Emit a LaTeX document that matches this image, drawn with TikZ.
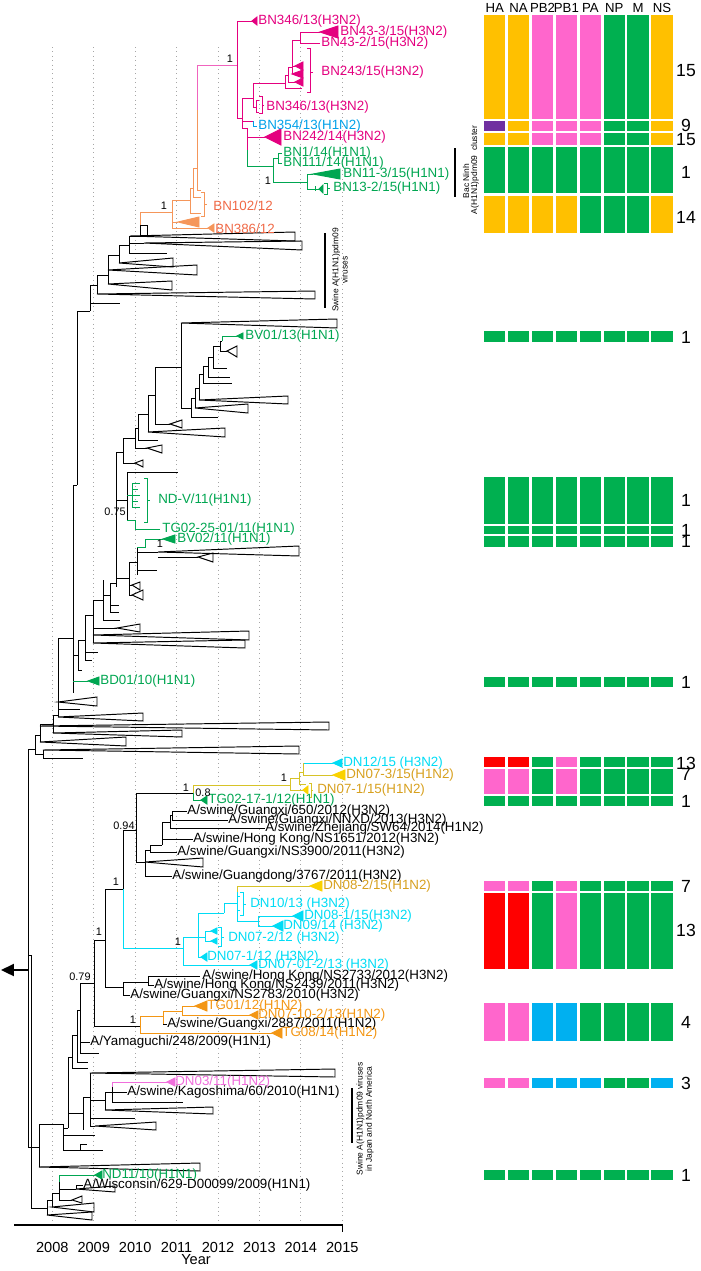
\documentclass[tikz,border=0pt]{standalone}
\usepackage{fontspec}
\setmainfont{Liberation Sans}
\usepackage{xcolor}
\usepackage{tikz}
\usetikzlibrary{arrows.meta}

\definecolor{barGold}{RGB}{255,192,0}
\definecolor{barPink}{RGB}{255,102,204}
\definecolor{barGreen}{RGB}{0,176,80}
\definecolor{barRed}{RGB}{255,0,0}
\definecolor{barBlue}{RGB}{0,176,240}
\definecolor{barPurple}{RGB}{112,48,160}
\definecolor{bnMag}{RGB}{228,0,127}
\definecolor{bnStem}{RGB}{240,100,190}
\definecolor{bnCyan}{RGB}{0,160,233}
\definecolor{vnGreen}{RGB}{0,166,81}
\definecolor{bnOrange}{RGB}{240,105,70}
\definecolor{bnOrLine}{RGB}{245,150,90}
\definecolor{tgOrange}{RGB}{243,150,20}
\definecolor{dnCyan}{RGB}{0,220,245}
\definecolor{dnYellow}{RGB}{250,210,0}
\definecolor{dnGold}{RGB}{215,160,30}
\definecolor{dnLine}{RGB}{215,195,40}
\definecolor{dnViolet}{RGB}{240,110,220}

\begin{document}
\begin{tikzpicture}[
  x=0.02cm, y=-0.02cm,
  br/.style={line width=0.55pt},
  otri/.style={br},
  ctri/.style={br, draw=#1, fill=#1},
  gridln/.style={draw=gray!70, dotted, line width=0.5pt},
  lab/.style={anchor=west, inner sep=0pt, font=\fontsize{7.6}{8}\selectfont},
  bsup/.style={inner sep=0pt, font=\fontsize{6.2}{7}\selectfont},
  hdr/.style={inner sep=0pt, font=\fontsize{7.5}{8}\selectfont},
  cnt/.style={inner sep=0pt, font=\fontsize{10}{11}\selectfont},
  yearlab/.style={inner sep=0pt, font=\fontsize{8.3}{9}\selectfont},
  note/.style={inner sep=0pt, rotate=90, align=center, font=\fontsize{4.8}{5.2}\selectfont},
]
\useasboundingbox (0,0) rectangle (700,1271);

% Year grid and axis
\foreach \yr [count=\k from 0] in {2008,...,2015} {
  \draw[gridln] ({52.3+41.43*\k},47) -- ({52.3+41.43*\k},1225);
  \node[yearlab] (yr\yr) at ({52.3+41.43*\k},1247) {\yr};
}
\draw[line width=0.7pt] (14,1225) -- (342.3,1225) -- (342.3,1232);
\node[yearlab] (year) at (196,1260) {Year};

% Root arrow
\draw[line width=1.3pt, -{Triangle[length=0.26cm, width=0.24cm]}] (28,970) -- (1,970);

% Bac Ninh H3N2 clade
\draw[br, bnStem] (197,110) -- (197,65) -- (237,65);
\draw[br, bnMag] (237,21) -- (237,118) (237,21) -- (252,21) (237,118) -- (242,118)
  (242,98) -- (242,128) (242,98) -- (253,98) (253,83) -- (253,107) (253,83) -- (285,83)
  (285,75) -- (285,88) -- (302,88) (285,75) -- (288,75) (288,67) -- (288,82) -- (295,82)
  (288,67) -- (292,67) (292,40) -- (292,74) (292,66) -- (295,66) (292,40) -- (300,40)
  (300,32) -- (300,43) (300,32) -- (320,32) (300,43) -- (320,43)
  (253,107) -- (256,107) (256,100) -- (256,112) (256,100) -- (259,100) (256,112) -- (259,112)
  (242,121) -- (253,121) (242,128) -- (247,128) (247,128) -- (247,150) (247,137) -- (265,137);
\draw[br, bnMag] (307,48) -- (310,48) -- (310,92) -- (307,92) (310,72) -- (313,72);
\draw[br, bnMag] (259,96) -- (262,96) -- (262,113) -- (259,113) (262,105) -- (264,105);
\draw[ctri=bnMag] (252,21) -- (257,17) -- (257,25) -- cycle;
\draw[ctri=bnMag] (320,32) -- (338,26) -- (338,38) -- cycle;
\draw[ctri=bnMag] (295,66) -- (303,62) -- (303,70) -- cycle;
\draw[ctri=bnMag] (292,74) -- (303,70) -- (303,78) -- cycle;
\draw[ctri=bnMag] (295,82) -- (303,78) -- (303,86) -- cycle;
\draw[ctri=bnMag] (265,137) -- (281,129) -- (281,145) -- cycle;
\draw[br, bnCyan] (253,121) -- (253,126) -- (257,126);

% Bac Ninh H1N1pdm09 cluster
\draw[br, vnGreen] (247,150) -- (247,166) -- (273,166) (273,158) -- (273,182)
  (273,158) -- (278,158) (278,153) -- (278,163) (278,153) -- (282,153) (278,163) -- (282,163)
  (273,182) -- (307,182) (307,174) -- (307,189) (307,174) -- (313,174) (307,189) -- (315,189)
  (315,186) -- (315,191) (315,189) -- (319,189)
  (324,183) -- (327,183) -- (327,194) -- (324,194) (327,188.5) -- (330,188.5);
\draw[ctri=vnGreen] (313,174) -- (340,169) -- (340,179) -- cycle;
\draw[ctri=vnGreen] (319,189) -- (323,185) -- (323,193) -- cycle;

% BN 2012 clade
\draw[br, bnOrLine] (197,110) -- (197,190) -- (201,190) (193,168) -- (197,168)
  (193,168) -- (193,197) -- (201,197) (190,188) -- (193,188) (190,188) -- (190,213) -- (201,213)
  (172,200) -- (190,200) (172,200) -- (172,228) -- (208,228) (172,222) -- (178,222)
  (140,212) -- (172,212) (140,212) -- (140,225)
  (201,192) -- (204,192) -- (204,216) -- (201,216) (204,204) -- (207,204);
\draw[ctri=bnOrLine] (178,222) -- (199,217) -- (199,227) -- cycle;
\draw[ctri=bnOrLine] (208,228) -- (214,224) -- (214,232) -- cycle;

% Backbone, upper part
\draw[br] (140,225) rectangle (147,236)
  (129,236) -- (140,236) (129,236) -- (129,253) -- (167,253) (129,243) -- (144,243)
  (119,245) -- (129,245) (119,245) -- (119,263) (108,255) -- (119,255) (108,255) -- (108,284)
  (97,275) -- (108,275) (97,275) -- (97,294) (90,285) -- (97,285) (90,285) -- (90,311)
  (90,303) -- (120,303) (77,311) -- (90,311) (77,311) -- (77,485) (73,485) -- (77,485)
  (73,485) -- (73,693);
\draw[otri] (130,236) -- (295,232) -- (295,241) -- cycle;
\draw[otri] (144,243) -- (302,241) -- (302,250) -- cycle;
\draw[otri] (119,263) -- (173,258) -- (173,267) -- cycle;
\draw[otri] (108,270) -- (197,265) -- (197,275) -- cycle;
\draw[otri] (108,284) -- (172,281) -- (172,290) -- cycle;
\draw[otri] (97,294) -- (315,291) -- (315,299) -- cycle;

% Vietnamese H1N1pdm09 group
\draw[br] (220,341) -- (222,341) (220,341) -- (220,351) -- (227,351)
  (213,346) -- (220,346) (213,346) -- (213,368) -- (227,368)
  (208,357) -- (213,357) (208,357) -- (208,377) -- (230,377)
  (203,366) -- (208,366) (203,366) -- (203,383) -- (232,383)
  (199,374) -- (203,374) (199,374) -- (199,400) (195,388) -- (199,388) (195,388) -- (195,408)
  (191,398) -- (195,398) (191,398) -- (191,417) -- (218,417) (181,408) -- (191,408)
  (181,323) -- (181,408) (155,367) -- (181,367) (155,367) -- (155,424) -- (170,424)
  (148,395) -- (155,395) (148,395) -- (148,432) (138,414) -- (148,414)
  (138,414) -- (138,440) -- (158,440) (135,428) -- (138,428) (135,428) -- (135,448) -- (147,448)
  (123,438) -- (135,438) (123,438) -- (123,463) -- (135,463) (116,452) -- (123,452)
  (116,452) -- (116,587) (116,500) -- (127,500) (127,472) -- (127,520) (127,472) -- (178,472)
  (137,547) -- (137,575) (137,552) -- (158,552) (158,557) -- (198,557) (137,570) -- (157,570)
  (129,562) -- (137,562) (129,562) -- (129,595) (129,585) -- (132,585) (129,595) -- (132,595)
  (116,578) -- (129,578) (110,583) -- (116,583) (110,583) -- (110,612) -- (119,612)
  (110,605) -- (119,605) (103,595) -- (110,595) (103,580) -- (103,620) -- (120,620)
  (93,600) -- (103,600) (93,600) -- (93,643) (93,628) -- (117,628)
  (85,615) -- (93,615) (85,615) -- (85,660) -- (92,660) (85,652) -- (98,652)
  (78,640) -- (85,640) (78,640) -- (78,670) -- (82,670) (73,655) -- (78,655);
\draw[otri] (227,351) -- (237,346) -- (237,357) -- cycle;
\draw[otri] (199,400) -- (288,396) -- (288,404) -- cycle;
\draw[otri] (195,408) -- (248,404) -- (248,413) -- cycle;
\draw[otri] (181,323) -- (337,319) -- (337,328) -- cycle;
\draw[otri] (170,424) -- (182,420) -- (182,428) -- cycle;
\draw[otri] (148,432) -- (225,428) -- (225,437) -- cycle;
\draw[otri] (147,448) -- (162,445) -- (162,453) -- cycle;
\draw[otri] (135,463) -- (143,460) -- (143,467) -- cycle;
\draw[otri] (158,552) -- (299,546) -- (299,556) -- cycle;
\draw[otri] (198,557) -- (213,553) -- (213,562) -- cycle;
\draw[otri] (132,585) -- (140,582) -- (140,590) -- cycle;
\draw[otri] (132,595) -- (143,590) -- (143,600) -- cycle;
\draw[otri] (117,628) -- (140,624) -- (140,632) -- cycle;
\draw[otri] (93,635) -- (249,631) -- (249,640) -- cycle;
\draw[otri] (93,643) -- (245,640) -- (245,648) -- cycle;
\draw[br, vnGreen] (222,341) -- (222,336) -- (237,336)
  (127,495) -- (132,495) (132,483) -- (132,507) (132,483) -- (140,483) (132,489) -- (138,489)
  (132,495) -- (140,495) (132,501) -- (138,501) (132,507) -- (140,507)
  (144,478) -- (147,478) -- (147,522) -- (144,522) (147,500) -- (150,500)
  (127,520) -- (135,520) -- (135,529) -- (160,529)
  (137,547) -- (145,547) -- (145,539) -- (163,539)
  (73,681) -- (88,681);
\draw[ctri=vnGreen] (237,336) -- (243,333) -- (243,339) -- cycle;
\draw[ctri=vnGreen] (163,539) -- (175,535) -- (175,543) -- cycle;
\draw[ctri=vnGreen] (88,681) -- (99,677) -- (99,685) -- cycle;

% Backbone, middle part
\draw[br] (58,638) -- (73,638) (58,638) -- (58,717) (58,709) -- (80,709)
  (53,715) -- (58,715) (53,715) -- (53,733) (40,724) -- (53,724) (40,724) -- (40,742)
  (35,735) -- (40,735) (35,735) -- (35,754) -- (43,754) (43,750) -- (43,758) -- (83,758)
  (28,749) -- (35,749) (28,749) -- (28,1147) (28,955) -- (31,955) (31,955) -- (31,1208);
\draw[otri] (58,702) -- (97,697) -- (97,706) -- cycle;
\draw[otri] (58,717) -- (143,713) -- (143,721) -- cycle;
\draw[otri] (53,733) -- (182,730) -- (182,737) -- cycle;
\draw[otri] (40,726) -- (329,722) -- (329,730) -- cycle;
\draw[otri] (40,742) -- (126,737) -- (126,746) -- cycle;
\draw[otri] (43,750) -- (299,746) -- (299,754) -- cycle;

% H3N2 and H1N2 reassortants
\draw[br] (28,1147) -- (39,1147) (39,1124) -- (39,1167) (39,1124) -- (63,1124)
  (63,1124) -- (63,1150) (63,1135) -- (95,1135) (63,1150) -- (80,1150) (80,1144) -- (80,1150)
  (80,1144) -- (87,1144) (80,1150) -- (103,1150) (63,1128) -- (68,1128)
  (68,1057) -- (68,1128) (68,1113) -- (83,1113) (83,1097) -- (83,1130) (83,1097) -- (90,1097)
  (90,1073) -- (90,1127) (90,1100) -- (105,1100) (105,1092) -- (105,1110)
  (105,1092) -- (127,1092) (112,1087) -- (112,1102) -- (183,1102)
  (90,1118) -- (135,1118) (90,1126) -- (95,1126)
  (68,1057) -- (72,1057) (72,1035) -- (72,1068) -- (88,1068)
  (72,1035) -- (77,1035) (77,1010) -- (77,1062) -- (88,1062)
  (77,1010) -- (80,1010) (80,983) -- (80,1053) (80,1042) -- (90,1042) (80,1053) -- (99,1053)
  (80,983) -- (94,983) (94,940) -- (94,1026) (94,940) -- (105,940) (105,889) -- (105,987)
  (105,889) -- (123,889) (123,830) -- (123,889) (123,830) -- (136,830) (136,793) -- (136,862)
  (136,793) -- (193,793) (136,862) -- (145,862) (145,850) -- (145,876) -- (172,876)
  (145,850) -- (150,850) (150,845) -- (150,852) -- (177,852) (150,845) -- (162,845)
  (162,822) -- (162,845) (162,839) -- (193,839) (162,822) -- (170,822)
  (170,815) -- (170,828) -- (265,828) (170,815) -- (172,815) (172,811) -- (172,820)
  (172,811) -- (187,811) (172,820) -- (228,820)
  (105,987) -- (123,987) (123,982) -- (123,995) -- (130,995) (123,982) -- (148,982)
  (148,976) -- (148,985) -- (154,985) (148,976) -- (200,976)
  (94,1026) -- (140,1026) (163,1024) -- (167,1024)
  (31,1208) -- (47,1208) (47,1200) -- (47,1215) (47,1200) -- (52,1200) (52,1193) -- (52,1207)
  (52,1193) -- (59,1193) (59,1182) -- (59,1200) -- (72,1200) (59,1189) -- (76,1189)
  (76,1185) -- (76,1189) (76,1185) -- (83,1185);
\draw[otri] (39,1167) -- (200,1163) -- (200,1171) -- cycle;
\draw[otri] (90,1073) -- (335,1069) -- (335,1077) -- cycle;
\draw[otri] (105,1110) -- (213,1107) -- (213,1114) -- cycle;
\draw[otri] (95,1126) -- (156,1122) -- (156,1130) -- cycle;
\draw[otri] (145,862) -- (203,858) -- (203,867) -- cycle;
\draw[otri] (47,1215) -- (92,1212) -- (92,1220) -- cycle;
\draw[otri] (52,1207) -- (94,1203) -- (94,1212) -- cycle;
\draw[otri] (72,1200) -- (82,1196) -- (82,1203) -- cycle;
\draw[otri] (76,1189) -- (115,1186) -- (115,1192) -- cycle;

% Dong Nai clades
\draw[br, dnCyan] (123,889) -- (123,948) -- (183,948) (183,937) -- (183,965) -- (250,965)
  (183,937) -- (198,937) (198,913) -- (198,957) -- (201,957) (198,937) -- (205,937)
  (205,931) -- (205,941) (205,931) -- (211,931) (205,941) -- (211,941)
  (218,927) -- (221,927) -- (221,946) -- (218,946) (221,937) -- (224,937)
  (198,913) -- (224,913) (224,903) -- (224,913) (224,903) -- (237,903) (237,892) -- (237,921)
  (237,921) -- (258,921) (258,916) -- (258,926) (258,916) -- (293,916) (258,926) -- (273,926)
  (237,896) -- (240,896) (237,910) -- (240,910)
  (240,892) -- (243,892) -- (243,915) -- (240,915) (243,904) -- (246,904)
  (303,763) -- (333,763);
\draw[ctri=dnCyan] (250,965) -- (257,961) -- (257,969) -- cycle;
\draw[ctri=dnCyan] (201,957) -- (207,953) -- (207,961) -- cycle;
\draw[ctri=dnCyan] (211,931) -- (217,928) -- (217,934) -- cycle;
\draw[ctri=dnCyan] (211,941) -- (217,938) -- (217,944) -- cycle;
\draw[ctri=dnCyan] (293,916) -- (303,911) -- (303,921) -- cycle;
\draw[ctri=dnCyan] (273,926) -- (283,921) -- (283,931) -- cycle;
\draw[ctri=dnCyan] (333,763) -- (342,759) -- (342,767) -- cycle;
\draw[br, dnLine] (193,785) -- (193,793) (193,785) -- (290,785) (290,778) -- (290,790) -- (303,790)
  (290,778) -- (299,778) (299,772) -- (299,784) -- (306,784) (299,772) -- (303,772)
  (303,763) -- (303,775) -- (333,775)
  (309,783) -- (311,783) -- (311,797) -- (309,797) (311,790) -- (313,790)
  (237,892) -- (237,886) -- (310,886);
\draw[ctri=dnYellow] (333,775) -- (345,770) -- (345,780) -- cycle;
\draw[ctri=dnYellow] (303,790) -- (308,786) -- (308,794) -- cycle;
\draw[ctri=dnYellow] (310,886) -- (322,881) -- (322,891) -- cycle;
\draw[br, vnGreen] (193,793) -- (193,800) -- (201,800) (59,1182) -- (59,1175) -- (95,1175);
\draw[ctri=vnGreen] (201,800) -- (207,796) -- (207,804) -- cycle;
\draw[ctri=vnGreen] (95,1175) -- (102,1171) -- (102,1179) -- cycle;
\draw[br, tgOrange] (140,1016) -- (140,1033) -- (272,1033) (140,1016) -- (163,1016)
  (163,1011) -- (163,1024) (163,1011) -- (182,1011) (182,1006) -- (182,1015)
  (182,1006) -- (195,1006) (182,1015) -- (250,1015);
\draw[ctri=tgOrange] (195,1006) -- (207,1001) -- (207,1011) -- cycle;
\draw[ctri=tgOrange] (250,1015) -- (258,1011) -- (258,1019) -- cycle;
\draw[ctri=tgOrange] (272,1033) -- (282,1028) -- (282,1038) -- cycle;
\draw[br, dnViolet] (112,1087) -- (112,1082) -- (167,1082);
\draw[ctri=dnViolet] (167,1082) -- (175,1078) -- (175,1086) -- cycle;

% Tip labels
\node[lab, text=bnMag] (bn346a) at (258,21) {BN346/13(H3N2)};
\node[lab, text=bnMag] (bn433) at (340,32) {BN43-3/15(H3N2)};
\node[lab, text=bnMag] (bn432) at (321,43) {BN43-2/15(H3N2)};
\node[lab, text=bnMag] (bn243) at (321,72) {BN243/15(H3N2)};
\node[lab, text=bnMag] (bn346b) at (266,107) {BN346/13(H3N2)};
\node[lab, text=bnCyan] (bn354) at (258,126) {BN354/13(H1N2)};
\node[lab, text=bnMag] (bn242) at (283,137) {BN242/14(H3N2)};
\node[lab, text=vnGreen] (bn1) at (283,153) {BN1/14(H1N1)};
\node[lab, text=vnGreen] (bn111) at (283,163) {BN111/14(H1N1)};
\node[lab, text=vnGreen] (bn113) at (343,174) {BN11-3/15(H1N1)};
\node[lab, text=vnGreen] (bn132) at (333,188) {BN13-2/15(H1N1)};
\node[lab, text=bnOrange] (bn102) at (213,206) {BN102/12};
\node[lab, text=bnOrange] (bn386) at (215,229) {BN386/12};
\node[lab, text=vnGreen] (bv01) at (245,336) {BV01/13(H1N1)};
\node[lab, text=vnGreen] (ndv) at (158,500) {ND-V/11(H1N1)};
\node[lab, text=vnGreen] (tg0225) at (162,529) {TG02-25-01/11(H1N1)};
\node[lab, text=vnGreen] (bv02) at (177,539) {BV02/11(H1N1)};
\node[lab, text=vnGreen] (bd01) at (100,681) {BD01/10(H1N1)};
\node[lab, text=dnCyan] (dn12) at (343,763) {DN12/15 (H3N2)};
\node[lab, text=dnGold] (dn073) at (346,775) {DN07-3/15(H1N2)};
\node[lab, text=dnGold] (dn071) at (317,790) {DN07-1/15(H1N2)};
\node[lab, text=vnGreen] (tg0217) at (208,800) {TG02-17-1/12(H1N1)};
\node[lab] (gx650) at (187,811) {A/swine/Guangxi/650/2012(H3N2)};
\node[lab] (gxnnxd) at (228,820) {A/swine/Guangxi/NNXD/2013(H3N2)};
\node[lab] (zjsw64) at (265,828) {A/swine/Zhejiang/SW64/2014(H1N2)};
\node[lab] (hk1651) at (193,839) {A/swine/Hong Kong/NS1651/2012(H3N2)};
\node[lab] (gx3900) at (177,852) {A/swine/Guangxi/NS3900/2011(H3N2)};
\node[lab] (gd3767) at (172,876) {A/swine/Guangdong/3767/2011(H3N2)};
\node[lab, text=dnGold] (dn082) at (323,886) {DN08-2/15(H1N2)};
\node[lab, text=dnCyan] (dn10) at (250,904) {DN10/13 (H3N2)};
\node[lab, text=dnCyan] (dn081) at (304,916) {DN08-1/15(H3N2)};
\node[lab, text=dnCyan] (dn09) at (283,926) {DN09/14 (H3N2)};
\node[lab, text=dnCyan] (dn072) at (228,938) {DN07-2/12 (H3N2)};
\node[lab, text=dnCyan] (dn0712) at (207,957) {DN07-1/12 (H3N2)};
\node[lab, text=dnCyan] (dn0701) at (258,965) {DN07-01-2/13 (H3N2)};
\node[lab] (hk2733) at (202,976) {A/swine/Hong Kong/NS2733/2012(H3N2)};
\node[lab] (hk2439) at (154,985) {A/swine/Hong Kong/NS2439/2011(H3N2)};
\node[lab] (gx2783) at (130,995) {A/swine/Guangxi/NS2783/2010(H3N2)};
\node[lab, text=tgOrange] (tg01) at (207,1006) {TG01/12(H1N2)};
\node[lab, text=tgOrange] (dn0710) at (258,1015) {DN07-10-2/13(H1N2)};
\node[lab] (gx2887) at (167,1024) {A/swine/Guangxi/2887/2011(H1N2)};
\node[lab, text=tgOrange] (tg08) at (282,1033) {TG08/14(H1N2)};
\node[lab] (yama) at (90,1042) {A/Yamaguchi/248/2009(H1N1)};
\node[lab, text=dnViolet] (dn03) at (175,1082) {DN03/11(H1N2)};
\node[lab] (kago) at (127,1092) {A/swine/Kagoshima/60/2010(H1N1)};
\node[lab, text=vnGreen] (nd11) at (102,1175) {ND11/10(H1N1)};
\node[lab] (wisc) at (83,1185) {A/Wisconsin/629-D00099/2009(H1N1)};

% Node supports
\node[bsup] (s1) at (230,59) {1};
\node[bsup] (s2) at (164,206) {1};
\node[bsup] (s3) at (268,181) {1};
\node[bsup, anchor=east] (s4) at (126,512) {0.75};
\node[bsup] (s5) at (160,544) {1};
\node[bsup] (s6) at (186,788) {1};
\node[bsup] (s7) at (203,793) {0.8};
\node[bsup] (s8) at (284,778) {1};
\node[bsup] (s9) at (124,826) {0.94};
\node[bsup] (s10) at (116,882) {1};
\node[bsup] (s11) at (99,932) {1};
\node[bsup] (s12) at (178,942) {1};
\node[bsup] (s13) at (80,977) {0.79};
\node[bsup] (s14) at (133,1020) {1};

% Group bars
\draw[line width=1.3pt] (325,233) -- (325,308);
\node[note] (swpdm) at (340,270) {Swine A(H1N1)pdm09\\viruses};
\draw[line width=1.3pt] (455,148) -- (455,197);
\node[note] (bacninh) at (466,181) {Bac Ninh};
\node[note] (bncluster) at (475,170) {A(H1N1)pdm09\ \ cluster};
\draw[line width=1.3pt] (352,1088) -- (352,1143);
\node[note] (swjp) at (365,1119) {Swine A(H1N1)pdm09 viruses\\in Japan and North America};

% Gene segment table
\foreach \g [count=\i from 0] in {HA,NA,PB2,PB1,PA,NP,M,NS}
  \node[hdr] (hd\g) at ({494.7+23.9*\i},8) {\g};
\foreach \ya/\yb/\cols in {
  15/119/{barGold,barGold,barPink,barPink,barPink,barGreen,barGreen,barGold},
  120.7/131/{barPurple,barGold,barPink,barPink,barPink,barGreen,barGreen,barGold},
  132.7/145/{barGold,barGold,barPink,barPink,barPink,barGreen,barGreen,barGold},
  146.7/193.3/{barGreen,barGreen,barGreen,barGreen,barGreen,barGreen,barGreen,barGreen},
  196/233.3/{barGold,barGold,barGold,barGold,barGreen,barGreen,barGreen,barGold},
  330.7/341.7/{barGreen,barGreen,barGreen,barGreen,barGreen,barGreen,barGreen,barGreen},
  477.3/524.3/{barGreen,barGreen,barGreen,barGreen,barGreen,barGreen,barGreen,barGreen},
  525.7/534.3/{barGreen,barGreen,barGreen,barGreen,barGreen,barGreen,barGreen,barGreen},
  536/546.7/{barGreen,barGreen,barGreen,barGreen,barGreen,barGreen,barGreen,barGreen},
  676.7/686.7/{barGreen,barGreen,barGreen,barGreen,barGreen,barGreen,barGreen,barGreen},
  757.3/767.3/{barRed,barRed,barGreen,barPink,barGreen,barGreen,barGreen,barGreen},
  769/794.3/{barPink,barPink,barGreen,barPink,barGreen,barGreen,barGreen,barGreen},
  796/806/{barGreen,barGreen,barGreen,barGreen,barGreen,barGreen,barGreen,barGreen},
  881/891/{barPink,barPink,barGreen,barPink,barGreen,barGreen,barGreen,barGreen},
  892.7/969.3/{barRed,barRed,barGreen,barPink,barGreen,barGreen,barGreen,barGreen},
  1003.3/1040.7/{barPink,barPink,barBlue,barBlue,barGreen,barGreen,barGreen,barGreen},
  1078.3/1087.7/{barPink,barPink,barBlue,barBlue,barBlue,barGreen,barGreen,barBlue},
  1170/1180/{barGreen,barGreen,barGreen,barGreen,barGreen,barGreen,barGreen,barGreen}}
  \foreach \c [count=\i from 0] in \cols
    \fill[\c] ({484+23.9*\i},\ya) rectangle ({484+23.9*\i+21.3},\yb);

% Isolate counts
\foreach \yy/\txt [count=\k] in {71/15,125/9,140/15,172/1,217/14,337/1,500/1,530/1,541/1,
    682/1,763/13,774/7,801/1,886/7,930/13,1022/4,1083/3,1175/1}
  \node[cnt] (cnt\k) at (686,\yy) {\txt};

\end{tikzpicture}
\end{document}
